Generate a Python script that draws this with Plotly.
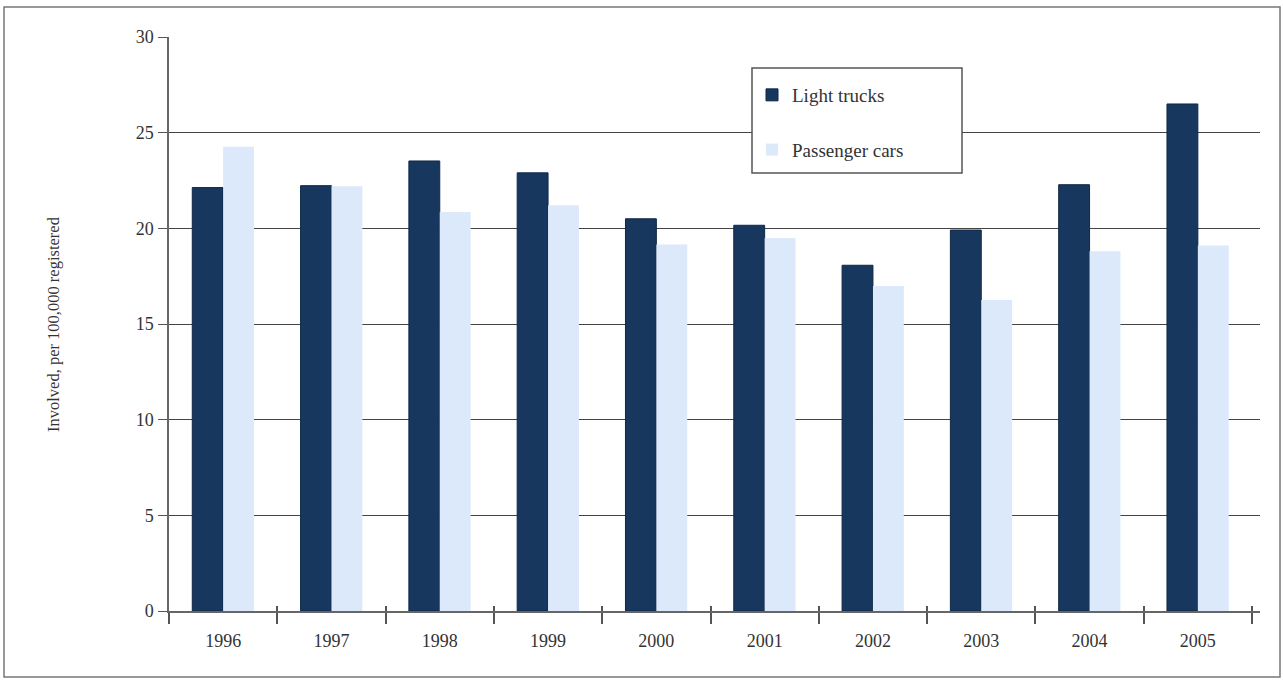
import plotly.graph_objects as go

years = ["1996", "1997", "1998", "1999", "2000", "2001", "2002", "2003", "2004", "2005"]
light_trucks = [22.13, 22.23, 23.52, 22.9, 20.5, 20.16, 18.07, 19.91, 22.28, 26.5]
passenger_cars = [24.27, 22.2, 20.85, 21.2, 19.16, 19.49, 16.98, 16.25, 18.8, 19.1]
y_ticks = [0, 5, 10, 15, 20, 25, 30]

FONT = "Liberation Serif"
DARK = "#17375e"
LIGHT = "#dce9fb"

fig = go.Figure()
fig.add_trace(go.Bar(x=years, y=light_trucks, name="Light trucks", legendgroup="a",
                     marker=dict(color=DARK, line=dict(color="#0f2847", width=1))))
fig.add_trace(go.Bar(x=years, y=passenger_cars, name="Passenger cars", legendgroup="b",
                     marker=dict(color=LIGHT, line=dict(width=0))))
# helper trace so the overlay axis (inner tick marks) is drawn
fig.add_trace(go.Scatter(x=[], y=[], xaxis="x2", showlegend=False, hoverinfo="skip"))

n = len(years)
fig.update_layout(
    width=1283, height=690,
    margin=dict(l=169, r=23, t=37, b=79),
    paper_bgcolor="white", plot_bgcolor="white",
    barmode="group", bargap=0.43, bargroupgap=0,
    font=dict(family=FONT, size=18, color="#333333"),
    showlegend=True,
    legend=dict(x=(752 - 169) / 1091, y=(611 - 76) / 574, xanchor="left", yanchor="top",
                bgcolor="rgba(0,0,0,0)", borderwidth=0, tracegroupgap=27,
                font=dict(family=FONT, size=19, color="#333333")),
    xaxis=dict(type="category", range=[-0.5, n - 0.5 + 8 / 108.3],
               showgrid=False, zeroline=False,
               showline=True, linecolor="#666666", linewidth=1.5,
               ticks="outside", tickson="boundaries", ticklen=11, tickwidth=1.5, tickcolor="#555555",
               ticklabelstandoff=13,
               tickfont=dict(family=FONT, size=18, color="#333333")),
    xaxis2=dict(overlaying="x", anchor="y", range=[-0.5, n - 0.5 + 8 / 108.3],
                tickmode="array", tickvals=[i - 0.5 for i in range(n + 1)],
                ticks="inside", ticklen=5, tickwidth=1.5, tickcolor="#555555",
                showticklabels=False, showgrid=False, zeroline=False, showline=False),
    yaxis=dict(range=[0, 30], tickvals=y_ticks, showgrid=True, gridcolor="#444444", gridwidth=1.3,
               zeroline=False, showline=True, linecolor="#666666", linewidth=1.5,
               ticks="outside", ticklen=9, tickwidth=1.3, tickcolor="#555555",
               ticklabelstandoff=1,
               tickfont=dict(family=FONT, size=18, color="#333333")),
    shapes=[
        # outer frame
        dict(type="rect", xref="paper", yref="paper",
             x0=(4 - 169) / 1091, x1=(1280 - 169) / 1091,
             y0=(611 - 677) / 574, y1=(611 - 7) / 574,
             line=dict(color="#777777", width=1.5), fillcolor="rgba(0,0,0,0)", layer="below"),
        # legend box
        dict(type="rect", xref="paper", yref="paper",
             x0=(752 - 169) / 1091, x1=(962 - 169) / 1091,
             y0=(611 - 173) / 574, y1=(611 - 68) / 574,
             line=dict(color="#555555", width=1.5), fillcolor="white", layer="above"),
    ],
    annotations=[
        dict(text="Involved, per 100,000 registered", xref="paper", yref="paper",
             x=(53 - 169) / 1091, y=0.5, textangle=-90, showarrow=False,
             xanchor="center", yanchor="middle",
             font=dict(family=FONT, size=16.5, color="#333333")),
    ],
)

fig.write_html("out.html", config={"displayModeBar": False},
               post_script="document.body.style.margin='0';document.body.style.overflow='hidden';")
